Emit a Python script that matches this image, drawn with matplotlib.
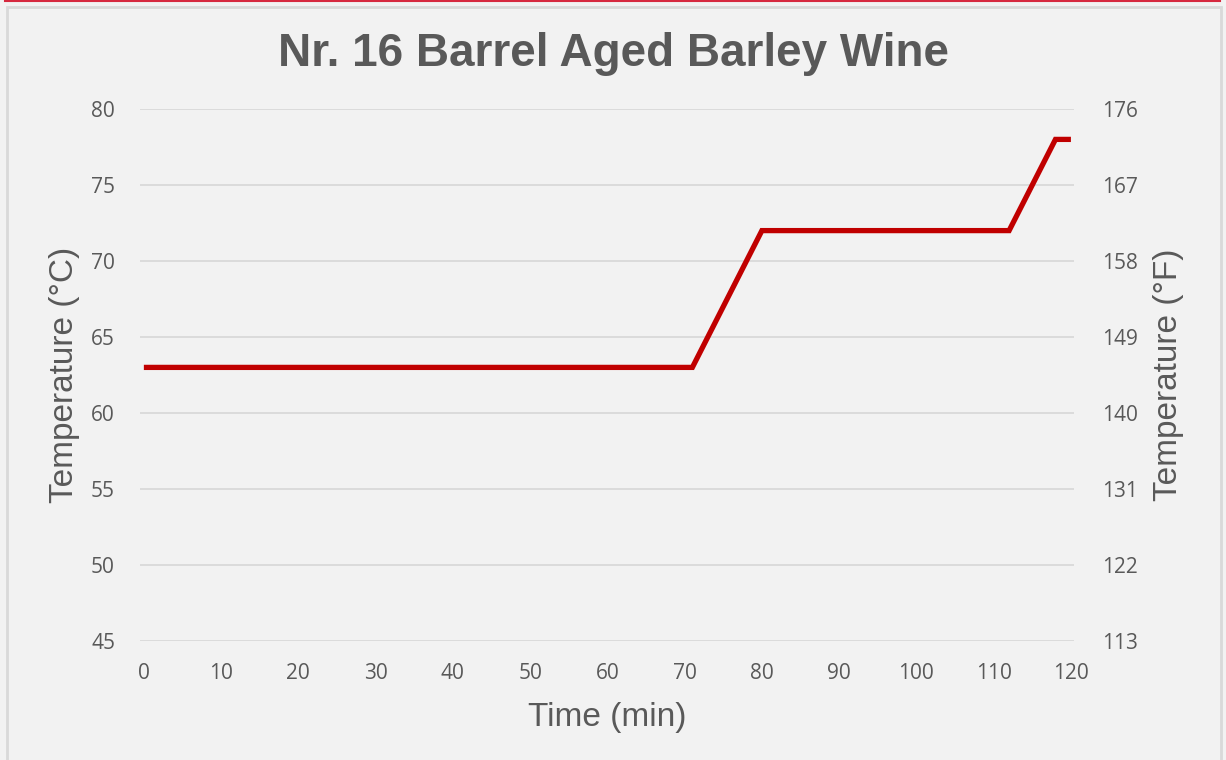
import matplotlib
matplotlib.use("Agg")
import matplotlib.pyplot as plt
from matplotlib.patches import Rectangle
from matplotlib.lines import Line2D

# mash schedule: time (min) vs temperature (C)
time_min = [0, 71, 80, 112, 118, 120]
temp_c = [63, 63, 72, 72, 78, 78]

x_ticks = list(range(0, 121, 10))
c_ticks = [45, 50, 55, 60, 65, 70, 75, 80]
f_labels = ["113", "122", "131", "140", "149", "158", "167", "176"]

title = "Nr. 16 Barrel Aged Barley Wine"
txt = "#595959"
bg = "#f2f2f2"

W, H = 1226, 760
fig = plt.figure(figsize=(W / 100, H / 100), dpi=100, facecolor=bg)

# frame and red top rule
fig.add_artist(Rectangle((7 / W, -0.01), (1221 - 7) / W, (H - 7) / H + 0.01,
                         transform=fig.transFigure, fill=False,
                         edgecolor="#d9d9d9", linewidth=2))
fig.add_artist(Line2D([5 / W, 1220 / W], [1 - 1 / H, 1 - 1 / H],
                      transform=fig.transFigure, color="#d6283f", linewidth=1.5))

ax = fig.add_axes([140 / W, 1 - 641 / H, (1074 - 140) / W, (641 - 109) / H])
ax.set_facecolor(bg)
ax.plot(time_min, temp_c, color="#c00000", linewidth=3.8, solid_joinstyle="miter",
        solid_capstyle="butt", zorder=3)

ax.set_xlim(-0.5, 120.4)
ax.set_ylim(45, 80)
ax.set_xticks(x_ticks)
ax.set_yticks(c_ticks)
ax.grid(axis="y", color="#d9d9d9", linewidth=1.3)
ax.set_axisbelow(True)
for s in ax.spines.values():
    s.set_visible(False)
ax.tick_params(length=0, labelsize=15, labelcolor=txt)
ax.tick_params(axis="y", pad=18)
ax.tick_params(axis="x", pad=16)
for lab in ax.get_xticklabels() + ax.get_yticklabels():
    lab.set_family("Open Sans")

ax2 = ax.twinx()
ax2.set_ylim(45, 80)
ax2.set_yticks(c_ticks)
ax2.set_yticklabels(f_labels, family="Open Sans")
for s in ax2.spines.values():
    s.set_visible(False)
ax2.tick_params(length=0, labelsize=15, labelcolor=txt, pad=20)

lab_font = dict(family="Liberation Sans", fontsize=24, color=txt)
ax.set_xlabel("Time (min)", labelpad=13, **lab_font)
ax.set_ylabel("Temperature (°C)", labelpad=8, **lab_font)
ax2.set_ylabel("Temperature (°F)", labelpad=11, **lab_font)

fig.text(613 / W, 1 - 54 / H, title, ha="center", va="center",
         family="Liberation Sans", fontweight="bold", fontsize=33, color=txt)

fig.savefig("out.png", dpi=100, facecolor=bg)
